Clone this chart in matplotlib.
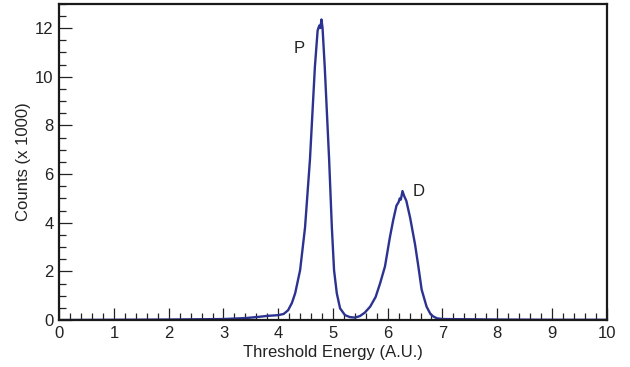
"""Threshold energy spectrum with P and D peaks."""

import matplotlib
matplotlib.use("Agg")
import matplotlib.pyplot as plt
from matplotlib.ticker import MultipleLocator

plt.rcParams["font.family"] = ["Liberation Sans", "DejaVu Sans"]

# --- data (x in A.U., counts in thousands) ---
energy = [0.0, 1.0, 2.0, 3.0, 3.4, 3.6, 3.8, 4.0, 4.1, 4.18, 4.25, 4.31,
          4.40, 4.49, 4.58, 4.67, 4.72, 4.75, 4.77, 4.79, 4.81, 4.85, 4.93,
          4.98, 5.02, 5.07, 5.13, 5.22, 5.31, 5.40, 5.49, 5.58, 5.68, 5.78,
          5.86, 5.95, 6.04, 6.10, 6.16, 6.20, 6.22, 6.24, 6.27, 6.30, 6.34,
          6.41, 6.50, 6.56, 6.62, 6.71, 6.78, 6.83, 6.90, 7.0, 8.0, 9.0, 10.0]
counts = [0.0, 0.01, 0.02, 0.04, 0.08, 0.12, 0.17, 0.20, 0.25, 0.40, 0.70, 1.10,
          2.05, 3.80, 6.60, 10.40, 11.90, 12.10, 12.00, 12.35, 12.00, 10.40, 6.60,
          3.80, 2.05, 1.10, 0.48, 0.20, 0.12, 0.10, 0.16, 0.30, 0.55, 0.95,
          1.50, 2.20, 3.40, 4.10, 4.70, 4.85, 5.00, 4.95, 5.30, 5.10, 4.90,
          4.20, 3.10, 2.20, 1.25, 0.55, 0.25, 0.15, 0.07, 0.04, 0.02, 0.01, 0.01]

peak_labels = ["P", "D"]
peak_pos = [(4.38, 11.15), (6.57, 5.29)]

fig = plt.figure(figsize=(6.3, 3.67), dpi=100)
ax = fig.add_axes([0.094, 0.128, 0.869, 0.862])

ax.plot(energy, counts, color="#2b3290", lw=1.7)

for lab, (px, py) in zip(peak_labels, peak_pos):
    ax.text(px, py, lab, fontsize=12, ha="center", va="center", color="#222222")

ax.set_xlim(0, 10)
ax.set_ylim(0, 13)
ax.xaxis.set_major_locator(MultipleLocator(1))
ax.xaxis.set_minor_locator(MultipleLocator(0.2))
ax.yaxis.set_major_locator(MultipleLocator(2))
ax.yaxis.set_minor_locator(MultipleLocator(0.5))
ax.tick_params(which="both", direction="in", top=False, right=False,
               labelsize=12, colors="#222222", width=0.9)
ax.tick_params(which="major", length=9)
ax.tick_params(which="minor", length=5)
ax.tick_params(axis="x", pad=4)
ax.tick_params(axis="y", pad=4)
for sp in ax.spines.values():
    sp.set_linewidth(1.6)
    sp.set_color("#1a1a1a")

ax.set_xlabel("Threshold Energy (A.U.)", fontsize=12, labelpad=3, color="#222222")
ax.set_ylabel("Counts (x 1000)", fontsize=12, labelpad=3, color="#222222")

fig.savefig("out.png", dpi=100)
